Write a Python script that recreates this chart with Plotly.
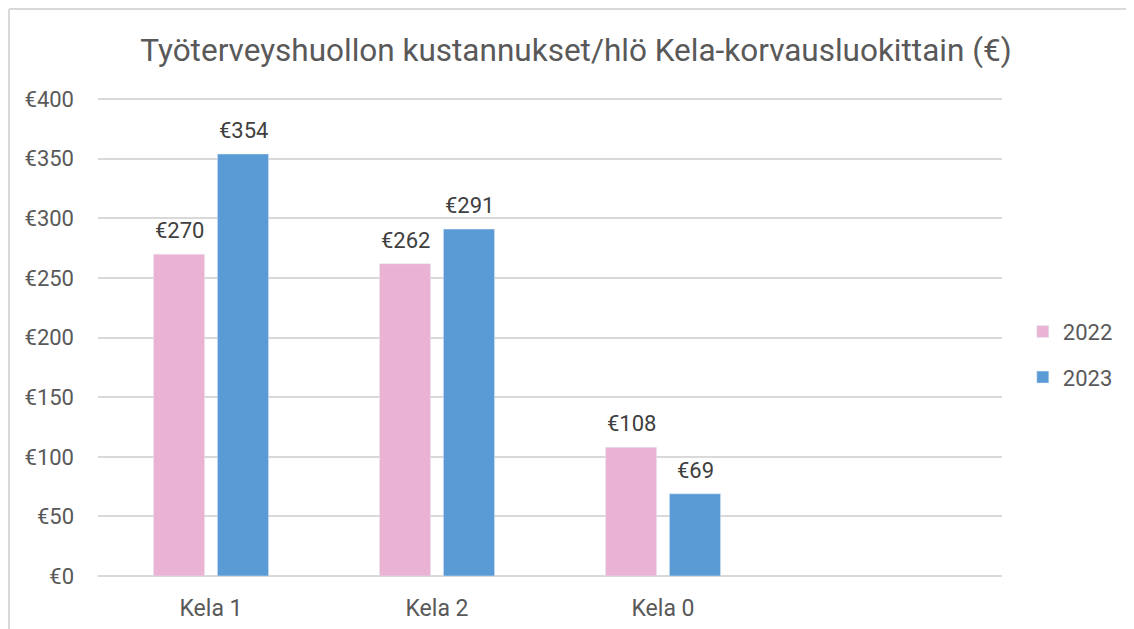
import plotly.graph_objects as go

categories = ["Kela 1", "Kela 2", "Kela 0", " "]
costs_2022 = [270, 262, 108, None]
costs_2023 = [354, 291, 69, None]
y_ticks = [0, 50, 100, 150, 200, 250, 300, 350, 400]

PINK = "#EAB3D3"
BLUE = "#5B9BD5"
TEXT = "#595959"
FONT = "Roboto"

fig = go.Figure()
for name, vals, color, shift in [("2022", costs_2022, PINK, -32), ("2023", costs_2023, BLUE, 32)]:
    fig.add_trace(go.Bar(x=categories, y=vals, name=name, marker_color=color, legendgroup=name))
    # data labels
    for cat, v in zip(categories, vals):
        if v is None:
            continue
        fig.add_annotation(x=cat, y=v, text=f"€{v}", showarrow=False, xshift=shift,
                           yanchor="bottom", yshift=9,
                           font=dict(size=22, color="#404040", family=FONT))

# page body adds 8px margin, so the figure is 8px smaller
fig.update_layout(
    width=1126, height=621,
    barmode="group", bargap=0.434, bargroupgap=0.2,
    plot_bgcolor="white", paper_bgcolor="white",
    font=dict(family=FONT, color=TEXT, size=21),
    title=dict(text="Työterveyshuollon kustannukset/hlö Kela-korvausluokittain (€)",
               x=0.5044, xanchor="center", y=0.932, yanchor="middle",
               font=dict(size=31.5, color=TEXT)),
    margin=dict(l=90, r=132, t=90, b=53),
    legend=dict(x=1.023, y=0.463, xanchor="left", yanchor="middle",
                font=dict(size=22, color=TEXT), tracegroupgap=14, itemwidth=30),
    showlegend=True,
)
fig.update_xaxes(range=[-0.5, 3.5], showline=False, ticks="", ticklabelstandoff=16,
                 tickfont=dict(size=23), automargin=False)
fig.update_yaxes(range=[0, 401], tickvals=y_ticks, ticktext=[f"€{t}" for t in y_ticks],
                 gridcolor="#D9D9D9", gridwidth=1.5, zeroline=True,
                 zerolinecolor="#D9D9D9", zerolinewidth=1.5,
                 ticks="", ticklabelstandoff=23, tickfont=dict(size=22), automargin=False)

# outer chart border (top and left visible)
bx = (9 - 98) / 904
by = (576 - 9) / 478
fig.add_shape(type="line", xref="paper", yref="paper", x0=bx, x1=1.2, y0=by, y1=by,
              line=dict(color="#D9D9D9", width=2))
fig.add_shape(type="line", xref="paper", yref="paper", x0=bx, x1=bx, y0=-0.2, y1=by,
              line=dict(color="#D9D9D9", width=2))

fig.write_html("out.html")
